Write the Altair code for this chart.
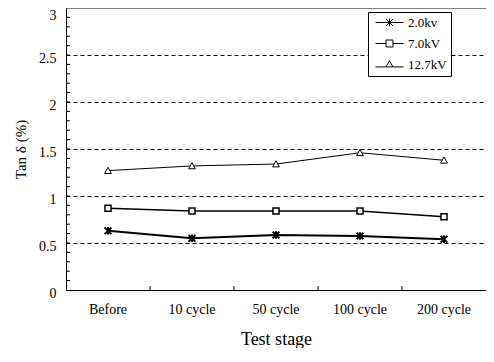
import altair as alt
import pandas as pd

stages = ["Before", "10 cycle", "50 cycle", "100 cycle", "200 cycle"]
series = ["2.0kv", "7.0kV", "12.7kV"]
v_2_0 = [0.63, 0.55, 0.585, 0.575, 0.54]
v_7_0 = [0.87, 0.84, 0.84, 0.84, 0.78]
v_12_7 = [1.27, 1.32, 1.34, 1.46, 1.38]
y_ticks = [0, 0.5, 1, 1.5, 2, 2.5, 3]
minor_ticks = [0.1, 0.2, 0.3, 0.4, 0.5, 0.6, 0.7, 0.8, 0.9, 1.0,
               1.1, 1.2, 1.3, 1.4, 1.5, 1.6, 1.7, 1.8, 1.9, 2.0,
               2.1, 2.2, 2.3, 2.4, 2.5, 2.6, 2.7, 2.8, 2.9]

rows = []
for s, vals in zip(series, [v_2_0, v_7_0, v_12_7]):
    for st, v in zip(stages, vals):
        rows.append({"stage": st, "series": s, "value": v})
df = pd.DataFrame(rows)
ticks_df = pd.DataFrame({"t": minor_ticks})
bound_df = pd.DataFrame({"stage": stages[1:]})

W, H = 420, 282
FONT = "Liberation Serif"
YT = "Tan δ (%)"
XT = "Test stage"

x_scale = alt.Scale(type="band", domain=stages, paddingInner=0, paddingOuter=0)
y_scale = alt.Scale(domain=[0, 3], nice=False, zero=True)

marker_paths = [
    "M-1,-1L1,1M-1,1L1,-1M0,-1.1L0,1.1",
    "M-0.9,-0.9L0.9,-0.9L0.9,0.9L-0.9,0.9Z",
    "M0,-1L1,0.85L-1,0.85Z",
]
legend_paths = [
    "M-0.5,0L4.17,0M1.25,-0.58L2.41,0.58M1.25,0.58L2.41,-0.58M1.83,-0.62L1.83,0.62",
    "M-0.5,0L1.25,0M2.41,0L4.17,0M1.25,-0.58L2.41,-0.58L2.41,0.58L1.25,0.58Z",
    "M-0.5,0.4L1.25,0.4M2.41,0.4L4.17,0.4M1.83,-0.62L2.41,0.4L1.25,0.4Z",
]

x_axis = alt.Axis(
    labelAngle=0, ticks=False, labelPadding=12, labelFontSize=14,
    titleFontSize=18, titlePadding=14, domainColor="black", grid=False,
)
y_axis = alt.Axis(
    values=y_ticks, format="~g", ticks=False, labelPadding=10, labelFontSize=14,
    labelOffset={"condition": {"test": "datum.value == 3", "value": 0}, "value": 3},
    labelBaseline={"condition": {"test": "datum.value == 3", "value": "top"}, "value": "middle"},
    titleFontSize=15, titlePadding=10, domainColor="black",
    grid=True, gridColor="black", gridDash=[4, 3], gridWidth=1,
    gridOpacity={"condition": {"test": "datum.value == 0 || datum.value == 3", "value": 0}, "value": 1},
)

X = alt.X("stage:N", scale=x_scale, axis=x_axis, title=XT, sort=stages)
Y = alt.Y("value:Q", scale=y_scale, axis=y_axis, title=YT)

lines = alt.Chart(df).mark_line(color="black").encode(
    x=X, y=Y, detail="series:N",
    strokeWidth=alt.StrokeWidth("series:N", scale=alt.Scale(domain=series, range=[2, 1, 1]), legend=None),
)

points = alt.Chart(df).mark_point(filled=True, fill="white", stroke="black", size=45, opacity=1).encode(
    x=X, y=Y,
    shape=alt.Shape("series:N", scale=alt.Scale(domain=series, range=marker_paths), legend=None),
    strokeWidth=alt.StrokeWidth("series:N", scale=alt.Scale(domain=series, range=[2, 1, 1]), legend=None),
)

legend_layer = alt.Chart(df).transform_filter("false").mark_point(
    filled=False, color="black", strokeWidth=1, size=144
).encode(
    x=X, y=Y,
    shape=alt.Shape(
        "series:N", scale=alt.Scale(domain=series, range=legend_paths),
        legend=alt.Legend(
            title=None, orient="none", legendX=302, legendY=4,
            strokeColor="black", fillColor="white", padding=4,
            labelFont=FONT, labelFontSize=13, labelColor="black", labelOffset=23,
            symbolSize=144, symbolStrokeColor="black",
            symbolStrokeWidth=1, symbolOpacity=1, rowPadding=7,
        ),
    ),
)

minor = alt.Chart(ticks_df).mark_rule(color="black", strokeWidth=1).encode(
    y=alt.Y("t:Q", scale=y_scale, axis=y_axis, title=YT),
    x=alt.value(0), x2=alt.value(4),
)

xb = alt.Chart(bound_df).mark_rule(color="black", strokeWidth=1).encode(
    x=alt.X("stage:N", scale=x_scale, axis=x_axis, title=XT, bandPosition=0, sort=stages),
    y=alt.value(H), y2=alt.value(H - 4),
)

chart = alt.layer(lines, points, legend_layer, minor, xb).resolve_scale(
    shape="independent", strokeWidth="independent"
).properties(
    width=W, height=H, background="white",
    autosize=alt.AutoSizeParams(type="none"),
    padding={"left": 58, "top": 0, "right": 0, "bottom": 58},
).configure_axis(
    labelFont=FONT, titleFont=FONT, labelColor="black", titleColor="black",
    titleFontWeight="normal",
).configure_view(
    stroke="black", strokeDash=[1, 1], strokeWidth=1,
)

chart.save("out.html", embed_options={"renderer": "svg", "actions": False})
